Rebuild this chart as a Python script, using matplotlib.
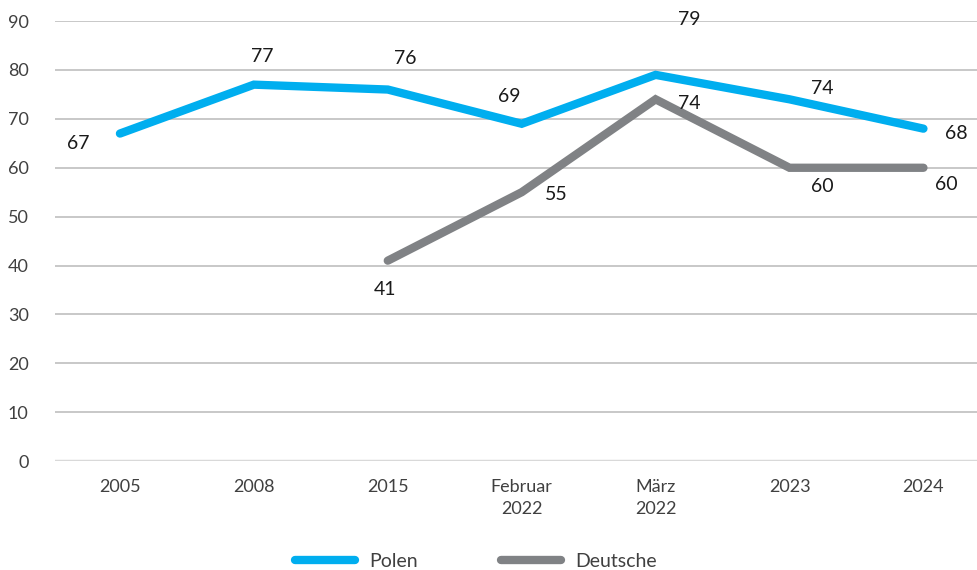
import matplotlib.pyplot as plt

plt.rcParams['font.family'] = ['Lato', 'DejaVu Sans']

kategorien = ['2005', '2008', '2015', 'Februar\n2022', 'März\n2022', '2023', '2024']
polen = [67, 77, 76, 69, 79, 74, 68]
deutsche = [None, None, 41, 55, 74, 60, 60]

# Versatz der Wertebeschriftungen in Pixeln
polen_offset = [(-42, -10), (8, 28), (17, 31), (-12, 27), (34, 55), (33, 11), (33, -5)]
deutsche_offset = [None, None, (-3, -29), (35, -2), (34, -4), (33, -19), (23, -17)]

blau = '#00AEEF'
grau = '#808285'

fig = plt.figure(figsize=(9.77, 5.70), dpi=100)
ax = fig.add_axes([0.0563, 0.191, 0.9437, 0.772])

x = list(range(len(kategorien)))
ax.plot(x, polen, color=blau, lw=6, solid_capstyle='round', solid_joinstyle='miter', label='Polen', zorder=3)
xd = [i for i, v in enumerate(deutsche) if v is not None]
yd = [v for v in deutsche if v is not None]
ax.plot(xd, yd, color=grau, lw=6, solid_capstyle='round', solid_joinstyle='miter', label='Deutsche', zorder=3)

for i, v in enumerate(polen):
    ax.annotate(str(v), (i, v), xytext=polen_offset[i], textcoords='offset pixels',
                ha='center', va='center', fontsize=14, color='#1a1a1a')
for i, v in enumerate(deutsche):
    if v is None:
        continue
    ax.annotate(str(v), (i, v), xytext=deutsche_offset[i], textcoords='offset pixels',
                ha='center', va='center', fontsize=14, color='#1a1a1a')

ax.set_ylim(0, 90)
ax.set_xlim(-0.485, 6.4)
ax.set_yticks(range(0, 91, 10))
ax.set_xticks(x)
ax.set_xticklabels(kategorien, linespacing=1.45)
ax.tick_params(axis='both', length=0, labelsize=13, labelcolor='#404040')
ax.tick_params(axis='y', pad=19)
ax.tick_params(axis='x', pad=13)

for y in range(10, 91, 10):
    ax.axhline(y, color='#bfbfbf', lw=1.2, zorder=1)
ax.axhline(0, color='#d9d9d9', lw=2.5, zorder=1)

for s in ax.spines.values():
    s.set_visible(False)

fig.legend(loc='lower center', ncol=2, frameon=False, fontsize=14,
           bbox_to_anchor=(0.487, -0.03), handlelength=3.1, columnspacing=4.3,
           handletextpad=0.7, labelcolor='#404040')

fig.savefig('out.png', dpi=100)
